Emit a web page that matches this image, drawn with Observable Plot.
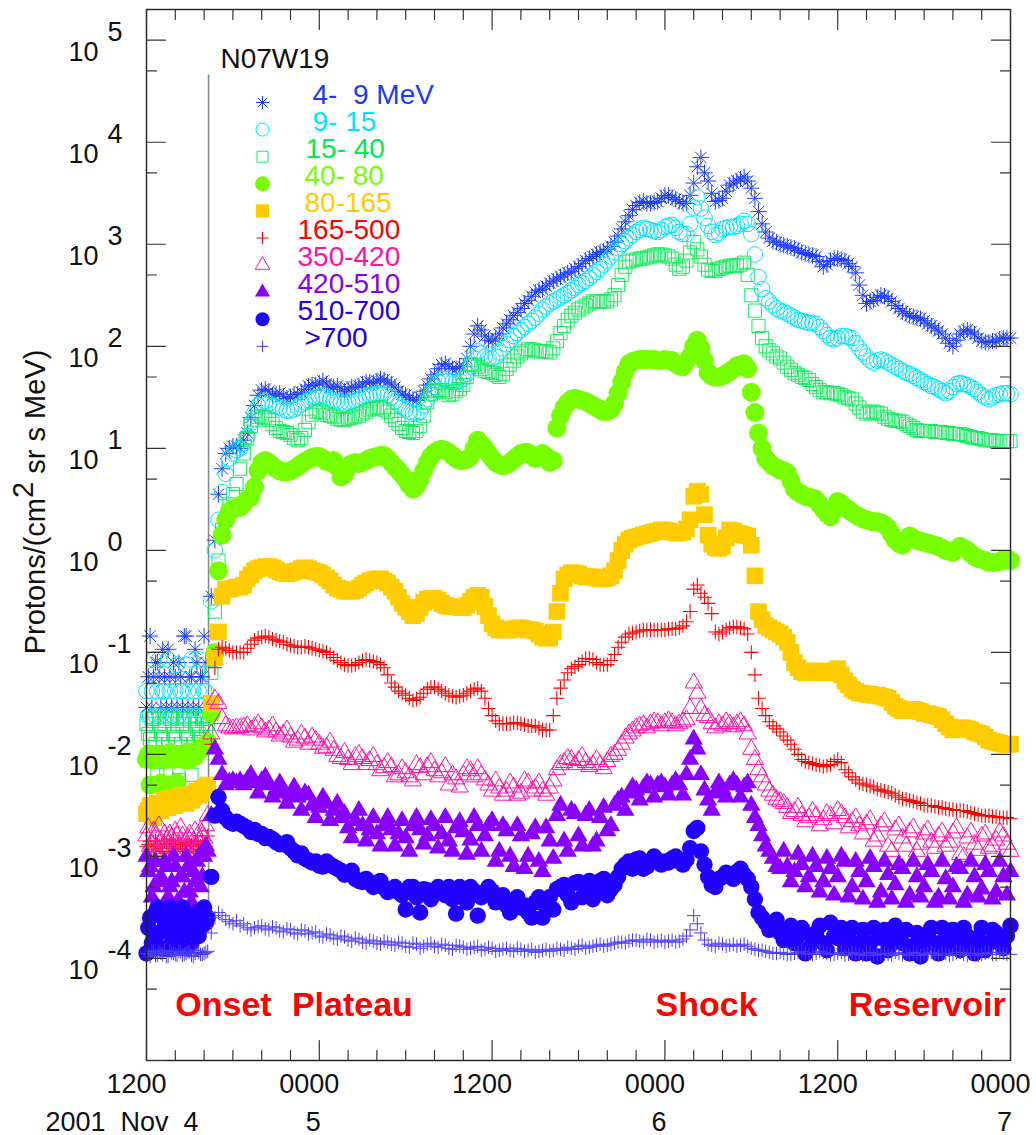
<!DOCTYPE html>
<html>
<head>
<meta charset="utf-8">
<script src="https://cdn.jsdelivr.net/npm/d3@7"></script>
<script src="https://cdn.jsdelivr.net/npm/@observablehq/plot@0.6"></script>
<style>
  html, body { margin: 0; padding: 0; background: #fff; }
  #chart { width: 1036px; height: 1135px; }
  svg text { white-space: pre; }
</style>
</head>
<body>
<div id="chart"></div>
<script>
// ---------------- DATA ----------------
// Hours after 2001 Nov 4 12:00 UT, first set of readings
const hours = [0,0.25,0.5,0.75,1,1.25,1.5,1.75,2,2.25,2.5,2.75,3,3.25,3.5,3.75,4,4.25,4.5,4.75,5,5.25,5.5,5.75,6,6.25,6.5,6.75,7,
7.5,8,8.5,9,9.5,10,10.5,11,11.5,12,12.5,13,13.5,14,14.5,15,15.5,16,16.5,17,17.5,18,18.5,19,19.5,20,20.5,21,21.5,22,22.5,23,23.5,24,24.5,25,25.5,26,26.5,27,27.5,28,28.5,29,29.5,30,30.5,31,31.5,32,32.5,33,33.5,34,34.5,35,35.5,36,36.5,37,37.5,38,38.5,39,39.5,40,40.5,41,41.5,42,42.5,43,43.5,44,44.5,45,45.5,46,46.5,47,47.5,48,48.5,49,49.5,50,50.5,51,51.5,52,52.5,53,53.5,54,54.5,55,55.5,56,56.5,57,57.5,58,58.5,59,59.5,60];
// Hours of the in-between readings
const hoursMid = [0.125,0.375,0.625,0.875,1.125,1.375,1.625,1.875,2.125,2.375,2.625,2.875,3.125,3.375,3.625,3.875,4.125,
7.25,7.75,8.25,8.75,9.25,9.75,10.25,10.75,11.25,11.75,12.25,12.75,13.25,13.75,14.25,14.75,15.25,15.75,16.25,16.75,17.25,17.75,18.25,18.75,19.25,19.75,20.25,20.75,21.25,21.75,22.25,22.75,23.25,23.75,24.25,24.75,25.25,25.75,26.25,26.75,27.25,27.75,28.25,28.75,29.25,29.75,30.25,30.75,31.25,31.75,32.25,32.75,33.25,33.75,34.25,34.75,35.25,35.75,36.25,36.75,37.25,37.75,38.25,38.75,39.25,39.75,40.25,40.75,41.25,41.75,42.25,42.75,43.25,43.75,44.25,44.75,45.25,45.75,46.25,46.75,47.25,47.75,48.25,48.75,49.25,49.75,50.25,50.75,51.25,51.75,52.25,52.75,53.25,53.75,54.25,54.75,55.25,55.75,56.25,56.75,57.25,57.75,58.25,58.75,59.25,59.75];

// log10 of proton intensity, Protons/(cm2 sr s MeV)
const log10_4to9 = [
-1.54,-0.84,-1.24,-1.10,-1.54,-1.24,-0.97,-1.54,-1.24,-1.10,-1.54,-0.84,-1.24,-1.54,-1.10,-1.24,-0.84,-1.54,
-0.45,0.10,0.55,0.80,0.95,1.00,1.02,1.02,1.00,1.08,1.15,
1.42,1.57,1.56,1.53,1.51,1.50,1.53,1.58,1.62,1.64,1.63,1.60,1.58,1.58,1.60,1.63,1.65,1.66,1.67,1.63,
1.56,1.52,1.48,1.50,1.62,1.72,1.82,1.80,1.78,1.80,2.00,2.20,2.10,2.05,2.12,2.22,2.30,2.37,2.45,2.53,
2.56,2.62,2.66,2.70,2.73,2.78,2.84,2.88,2.92,2.95,3.02,3.15,3.28,3.38,3.42,3.40,3.42,3.48,3.46,3.42,
3.40,3.60,3.85,3.62,3.42,3.45,3.58,3.62,3.66,3.55,3.32,3.12,3.03,3.00,2.98,2.96,2.92,2.90,2.88,2.78,
2.84,2.86,2.84,2.78,2.60,2.42,2.45,2.50,2.47,2.40,2.34,2.30,2.28,2.25,2.20,2.15,2.08,2.00,2.12,2.16,
2.12,2.05,2.04,2.05,2.08,2.08];
const log10_4to9_mid = [
-1.24,-1.54,-1.10,-1.24,-0.97,-1.54,-1.24,-1.10,-1.54,-1.24,-0.84,-1.54,-1.24,-0.97,-1.54,-1.24,-1.10,
1.30,1.52,1.58,1.52,1.54,1.49,1.53,1.55,1.61,1.62,1.66,1.60,1.61,1.56,1.60,1.61,1.65,1.64,1.68,1.65,
1.60,1.53,1.50,1.47,1.56,1.68,1.78,1.83,1.78,1.80,1.88,2.12,2.16,2.06,2.08,2.18,2.26,2.33,2.42,2.49,
2.55,2.59,2.64,2.68,2.72,2.76,2.81,2.86,2.90,2.93,2.98,3.08,3.22,3.34,3.41,3.40,3.41,3.45,3.48,3.44,
3.40,3.48,3.76,3.70,3.50,3.43,3.52,3.60,3.64,3.62,3.45,3.20,3.06,3.02,2.99,2.97,2.94,2.91,2.89,2.83,
2.80,2.86,2.85,2.81,2.72,2.50,2.44,2.48,2.49,2.44,2.37,2.32,2.29,2.27,2.22,2.18,2.12,2.03,2.06,2.15,
2.14,2.08,2.04,2.05,2.07,2.08];

const log10_9to15 = [
-1.38,-1.62,-1.07,-1.38,-1.62,-1.38,-1.07,-1.62,-1.38,-1.62,-1.38,-1.12,-1.62,-1.38,-1.62,-1.07,-1.38,-1.62,
-0.50,0.00,0.30,0.57,0.75,0.90,0.95,0.98,1.00,1.05,1.12,
1.35,1.45,1.44,1.41,1.38,1.37,1.40,1.45,1.49,1.51,1.50,1.47,1.45,1.45,1.47,1.50,1.52,1.53,1.54,1.50,
1.43,1.38,1.34,1.36,1.48,1.60,1.68,1.66,1.65,1.68,1.80,1.95,1.90,1.88,1.94,2.02,2.10,2.16,2.22,2.28,
2.36,2.42,2.46,2.50,2.55,2.60,2.64,2.70,2.76,2.84,2.92,3.00,3.06,3.12,3.16,3.14,3.12,3.17,3.19,3.12,
3.10,3.36,3.35,3.18,3.09,3.15,3.17,3.18,3.23,3.10,2.68,2.47,2.40,2.35,2.32,2.28,2.25,2.23,2.22,2.15,
2.08,2.08,2.10,2.08,1.98,1.90,1.84,1.87,1.84,1.80,1.76,1.73,1.69,1.65,1.61,1.58,1.54,1.60,1.64,1.62,
1.58,1.52,1.48,1.52,1.54,1.53];
const log10_9to15_mid = [
-1.62,-1.38,-1.62,-1.07,-1.38,-1.62,-1.38,-1.62,-1.12,-1.38,-1.62,-1.38,-1.07,-1.62,-1.38,-1.62,-1.38,
1.25,1.42,1.46,1.42,1.40,1.37,1.38,1.43,1.47,1.50,1.52,1.48,1.46,1.44,1.46,1.48,1.51,1.53,1.54,1.52,
1.46,1.40,1.36,1.34,1.42,1.54,1.65,1.68,1.65,1.66,1.73,1.88,1.93,1.88,1.90,1.98,2.06,2.13,2.19,2.25,
2.32,2.39,2.44,2.48,2.52,2.57,2.62,2.67,2.73,2.80,2.88,2.96,3.03,3.09,3.14,3.15,3.13,3.14,3.18,3.16,
3.10,3.20,3.46,3.26,3.12,3.11,3.16,3.17,3.20,3.20,2.90,2.56,2.44,2.37,2.34,2.30,2.26,2.24,2.23,2.19,
2.11,2.07,2.10,2.09,2.03,1.94,1.86,1.86,1.86,1.82,1.78,1.74,1.71,1.67,1.63,1.60,1.56,1.56,1.63,1.63,
1.60,1.55,1.50,1.50,1.53,1.54];

const log10_15to40 = [
-1.70,-1.85,-1.65,-2.20,-1.80,-1.70,-1.90,-1.65,-1.85,-2.25,-1.70,-1.80,-1.65,-1.90,-1.75,-1.85,-1.65,-1.70,
-1.20,-0.60,-0.10,0.20,0.30,0.45,0.55,0.65,0.80,0.95,1.10,
1.28,1.31,1.28,1.20,1.16,1.13,1.08,1.18,1.33,1.36,1.33,1.31,1.28,1.29,1.31,1.34,1.38,1.40,1.38,1.32,
1.24,1.17,1.15,1.22,1.45,1.56,1.57,1.52,1.56,1.62,1.82,1.80,1.76,1.74,1.70,1.78,1.86,1.93,1.97,1.96,
1.95,1.94,2.05,2.20,2.30,2.36,2.40,2.44,2.44,2.44,2.50,2.70,2.83,2.85,2.86,2.88,2.90,2.89,2.86,2.76,
2.84,3.02,2.88,2.75,2.74,2.77,2.79,2.79,2.82,2.50,2.20,2.00,1.93,1.88,1.80,1.74,1.70,1.67,1.60,1.55,
1.54,1.53,1.50,1.48,1.40,1.34,1.36,1.34,1.29,1.27,1.26,1.22,1.18,1.17,1.17,1.16,1.15,1.14,1.14,1.12,
1.10,1.09,1.08,1.07,1.07,1.07];
const log10_15to40_mid = [
-1.80,-1.65,-1.90,-1.70,-1.85,-2.15,-1.65,-1.80,-1.70,-1.90,-1.65,-1.85,-2.20,-1.70,-1.80,-1.65,-1.75,
1.22,1.31,1.30,1.24,1.17,1.15,1.10,1.10,1.26,1.36,1.35,1.32,1.29,1.28,1.30,1.32,1.36,1.39,1.40,1.36,
1.28,1.20,1.16,1.17,1.32,1.53,1.57,1.55,1.53,1.58,1.70,1.82,1.78,1.75,1.72,1.73,1.82,1.90,1.95,1.97,
1.95,1.95,1.98,2.13,2.26,2.33,2.38,2.42,2.44,2.44,2.46,2.60,2.78,2.84,2.86,2.87,2.89,2.90,2.88,2.80,
2.78,2.92,2.95,2.80,2.74,2.76,2.78,2.79,2.80,2.70,2.35,2.08,1.96,1.90,1.84,1.77,1.72,1.69,1.63,1.57,
1.55,1.54,1.52,1.49,1.44,1.36,1.35,1.35,1.31,1.28,1.27,1.24,1.20,1.17,1.17,1.16,1.16,1.15,1.14,1.13,
1.11,1.10,1.08,1.08,1.07,1.07];

const log10_40to80 = [
-2.05,-2.30,-2.05,-2.00,-2.28,-2.05,-2.00,-2.30,-2.02,-2.00,-2.05,-1.98,-2.05,-2.00,-1.98,-1.95,-1.92,-1.88,
-1.60,-1.00,-0.20,0.15,0.30,0.38,0.40,0.42,0.42,0.46,0.50,
0.62,0.86,0.86,0.80,0.77,0.78,0.82,0.87,0.91,0.92,0.87,0.88,0.72,0.82,0.86,0.86,0.90,0.92,0.93,0.86,
0.78,0.70,0.60,0.70,0.86,0.96,0.99,0.96,0.90,0.88,0.92,1.08,1.00,0.90,0.84,0.84,0.89,0.95,0.96,0.90,
0.95,0.86,1.20,1.40,1.48,1.48,1.46,1.42,1.38,1.36,1.44,1.65,1.83,1.86,1.87,1.87,1.86,1.87,1.86,1.81,
1.85,2.00,1.98,1.74,1.70,1.71,1.75,1.81,1.83,1.55,1.15,0.90,0.83,0.79,0.76,0.60,0.55,0.52,0.50,0.40,
0.33,0.48,0.42,0.37,0.33,0.30,0.28,0.27,0.22,0.10,0.05,0.14,0.10,0.08,0.06,0.04,0.00,-0.02,0.04,0.00,
-0.06,-0.09,-0.12,-0.12,-0.09,-0.10];
const log10_40to80_mid = [
-2.00,-2.05,-2.02,-2.30,-2.00,-2.05,-1.98,-2.05,-2.28,-2.00,-2.02,-2.05,-1.98,-2.02,-1.95,-1.94,-1.90,
0.52,0.78,0.88,0.83,0.78,0.77,0.80,0.85,0.89,0.92,0.90,0.86,0.82,0.74,0.85,0.85,0.88,0.91,0.93,0.90,
0.82,0.74,0.64,0.63,0.78,0.92,0.98,0.98,0.93,0.88,0.89,1.00,1.04,0.95,0.86,0.83,0.86,0.92,0.96,0.93,
0.92,0.92,0.88,1.32,1.45,1.49,1.47,1.44,1.40,1.36,1.38,1.54,1.75,1.85,1.87,1.87,1.87,1.86,1.86,1.83,
1.80,1.90,2.06,1.86,1.71,1.70,1.73,1.78,1.82,1.78,1.35,1.00,0.86,0.81,0.78,0.68,0.57,0.53,0.51,0.45,
0.36,0.40,0.46,0.40,0.35,0.31,0.29,0.28,0.25,0.16,0.07,0.10,0.12,0.09,0.07,0.05,0.02,-0.01,0.01,0.02,
-0.03,-0.08,-0.10,-0.12,-0.11,-0.09];

const log10_80to165 = [
-2.58,-2.50,-2.62,-2.48,-2.55,-2.45,-2.52,-2.42,-2.50,-2.45,-2.40,-2.48,-2.40,-2.42,-2.36,-2.38,-2.33,-2.30,
-1.50,-1.05,-0.80,-0.45,-0.38,-0.38,-0.37,-0.36,-0.36,-0.34,-0.28,
-0.20,-0.17,-0.16,-0.19,-0.22,-0.22,-0.20,-0.17,-0.20,-0.22,-0.27,-0.34,-0.38,-0.40,-0.39,-0.34,-0.30,-0.28,-0.30,-0.36,
-0.46,-0.56,-0.64,-0.56,-0.48,-0.47,-0.52,-0.55,-0.55,-0.56,-0.50,-0.44,-0.55,-0.72,-0.78,-0.78,-0.77,-0.76,-0.78,-0.79,
-0.85,-0.86,-0.60,-0.28,-0.22,-0.23,-0.26,-0.26,-0.28,-0.27,-0.20,0.00,0.10,0.13,0.15,0.17,0.19,0.20,0.18,0.17,
0.21,0.53,0.55,0.15,0.03,0.04,0.20,0.17,0.15,0.05,-0.60,-0.74,-0.78,-0.82,-0.90,-1.10,-1.19,-1.20,-1.18,-1.20,
-1.20,-1.16,-1.28,-1.36,-1.40,-1.41,-1.42,-1.43,-1.45,-1.53,-1.57,-1.56,-1.57,-1.60,-1.61,-1.63,-1.70,-1.76,-1.74,-1.75,
-1.78,-1.80,-1.86,-1.88,-1.90,-1.90];
const log10_80to165_mid = [
-2.55,-2.60,-2.50,-2.55,-2.48,-2.52,-2.45,-2.50,-2.42,-2.48,-2.44,-2.40,-2.45,-2.38,-2.40,-2.34,-2.32,
-0.24,-0.18,-0.16,-0.17,-0.21,-0.23,-0.21,-0.18,-0.18,-0.21,-0.24,-0.30,-0.37,-0.40,-0.40,-0.37,-0.32,-0.29,-0.28,-0.32,
-0.40,-0.52,-0.60,-0.62,-0.51,-0.47,-0.49,-0.54,-0.55,-0.56,-0.54,-0.46,-0.46,-0.64,-0.76,-0.78,-0.78,-0.76,-0.77,-0.78,
-0.82,-0.86,-0.80,-0.42,-0.24,-0.22,-0.25,-0.26,-0.27,-0.28,-0.25,-0.10,0.06,0.12,0.14,0.16,0.18,0.20,0.19,0.17,
0.18,0.30,0.58,0.35,0.06,0.02,0.12,0.19,0.16,0.14,-0.25,-0.68,-0.76,-0.80,-0.85,-1.00,-1.15,-1.20,-1.19,-1.19,
-1.20,-1.18,-1.22,-1.32,-1.38,-1.40,-1.41,-1.42,-1.44,-1.49,-1.55,-1.57,-1.56,-1.58,-1.60,-1.62,-1.66,-1.73,-1.75,-1.74,
-1.76,-1.79,-1.83,-1.87,-1.89,-1.90];

const log10_165to500 = [
-2.90,-2.85,-2.95,-2.88,-2.92,-2.85,-2.97,-2.88,-2.90,-2.85,-2.93,-2.87,-2.90,-2.95,-2.85,-2.90,-2.88,-2.80,
-1.90,-1.15,-0.97,-0.95,-0.96,-0.98,-1.00,-1.00,-1.00,-1.00,-0.96,
-0.88,-0.85,-0.85,-0.88,-0.90,-0.93,-0.95,-0.94,-0.96,-0.98,-1.00,-1.05,-1.10,-1.13,-1.12,-1.08,-1.08,-1.10,-1.15,-1.30,
-1.38,-1.42,-1.47,-1.44,-1.36,-1.34,-1.38,-1.42,-1.44,-1.42,-1.38,-1.35,-1.45,-1.62,-1.70,-1.70,-1.69,-1.70,-1.72,-1.72,
-1.76,-1.76,-1.45,-1.27,-1.16,-1.12,-1.06,-1.07,-1.12,-1.12,-1.02,-0.90,-0.82,-0.80,-0.78,-0.78,-0.78,-0.78,-0.77,-0.76,
-0.70,-0.38,-0.42,-0.52,-0.80,-0.80,-0.76,-0.75,-0.77,-1.00,-1.45,-1.62,-1.72,-1.78,-1.86,-1.95,-2.05,-2.08,-2.10,-2.12,
-2.10,-2.05,-2.15,-2.22,-2.28,-2.30,-2.32,-2.35,-2.37,-2.40,-2.44,-2.45,-2.47,-2.50,-2.50,-2.52,-2.53,-2.54,-2.55,-2.56,
-2.58,-2.60,-2.60,-2.61,-2.62,-2.63];
const log10_165to500_mid = [
-2.88,-2.93,-2.85,-2.90,-2.95,-2.87,-2.90,-2.84,-2.92,-2.88,-2.95,-2.86,-2.90,-2.88,-2.93,-2.85,-2.90,
-0.92,-0.86,-0.84,-0.87,-0.89,-0.92,-0.94,-0.95,-0.95,-0.97,-0.99,-1.02,-1.08,-1.12,-1.13,-1.10,-1.07,-1.09,-1.12,-1.22,
-1.34,-1.40,-1.45,-1.46,-1.40,-1.34,-1.36,-1.40,-1.43,-1.43,-1.40,-1.36,-1.38,-1.55,-1.67,-1.70,-1.70,-1.69,-1.71,-1.72,
-1.74,-1.76,-1.62,-1.35,-1.20,-1.14,-1.09,-1.06,-1.10,-1.12,-1.08,-0.95,-0.85,-0.81,-0.79,-0.78,-0.78,-0.78,-0.77,-0.77,
-0.74,-0.60,-0.34,-0.46,-0.62,-0.82,-0.78,-0.75,-0.76,-0.82,-1.22,-1.55,-1.68,-1.75,-1.82,-1.90,-2.00,-2.07,-2.09,-2.11,
-2.11,-2.07,-2.08,-2.18,-2.25,-2.29,-2.31,-2.34,-2.36,-2.38,-2.42,-2.44,-2.46,-2.48,-2.50,-2.51,-2.52,-2.54,-2.55,-2.55,
-2.57,-2.59,-2.60,-2.61,-2.62,-2.62];

const log10_350to420 = [
-2.80,-2.90,-2.75,-2.95,-2.85,-2.78,-2.92,-2.82,-2.75,-2.90,-2.80,-2.95,-2.78,-2.85,-2.90,-2.75,-2.82,-2.60,
-1.80,-1.46,-1.50,-1.65,-1.72,-1.74,-1.75,-1.74,-1.74,-1.73,-1.72,
-1.73,-1.74,-1.76,-1.78,-1.80,-1.83,-1.86,-1.84,-1.83,-1.90,-1.93,-1.96,-2.04,-2.05,-2.02,-2.04,-2.06,-2.10,-2.13,-2.12,
-2.20,-2.18,-2.26,-2.13,-2.12,-2.16,-2.18,-2.30,-2.24,-2.20,-2.16,-2.14,-2.25,-2.36,-2.33,-2.36,-2.32,-2.38,-2.28,-2.33,
-2.36,-2.33,-2.15,-2.08,-2.05,-2.06,-2.08,-2.10,-2.10,-2.07,-2.00,-1.90,-1.80,-1.74,-1.71,-1.70,-1.69,-1.69,-1.69,-1.70,
-1.66,-1.30,-1.55,-1.64,-1.74,-1.72,-1.70,-1.70,-1.72,-1.95,-2.15,-2.30,-2.40,-2.46,-2.52,-2.56,-2.60,-2.62,-2.60,-2.64,
-2.60,-2.55,-2.62,-2.66,-2.70,-2.68,-2.85,-2.70,-2.90,-2.74,-2.82,-2.76,-2.95,-2.78,-2.86,-2.80,-2.90,-2.77,-2.98,-2.82,
-2.88,-2.80,-2.92,-2.84,-2.80,-2.95];
const log10_350to420_mid = [
-2.72,-2.88,-2.80,-2.70,-2.92,-2.85,-2.78,-2.95,-2.80,-2.72,-2.88,-2.82,-2.92,-2.75,-2.85,-2.80,-2.70,
-1.76,-1.70,-1.78,-1.72,-1.82,-1.76,-1.88,-1.80,-1.90,-1.86,-1.94,-1.88,-2.02,-1.98,-2.10,-2.00,-2.10,-2.02,-2.16,-2.08,
-2.22,-2.14,-2.22,-2.10,-2.20,-2.08,-2.22,-2.12,-2.20,-2.32,-2.14,-2.22,-2.20,-2.30,-2.26,-2.40,-2.28,-2.40,-2.26,-2.36,
-2.28,-2.40,-2.26,-2.10,-2.04,-2.10,-2.02,-2.12,-2.05,-2.14,-2.02,-1.96,-1.84,-1.77,-1.72,-1.74,-1.68,-1.72,-1.67,-1.72,
-1.68,-1.55,-1.40,-1.62,-1.70,-1.70,-1.68,-1.73,-1.68,-1.80,-2.05,-2.22,-2.36,-2.44,-2.48,-2.58,-2.52,-2.66,-2.56,-2.70,
-2.58,-2.68,-2.58,-2.72,-2.62,-2.78,-2.64,-2.80,-2.66,-2.95,-2.70,-2.90,-2.72,-2.88,-2.74,-2.92,-2.76,-2.86,-2.72,-3.00,
-2.76,-2.94,-2.78,-2.90,-2.76,-2.88];

const log10_420to510 = [
-3.00,-3.10,-3.30,-3.50,-3.20,-3.05,-3.40,-3.25,-3.10,-3.45,-3.20,-3.00,-3.35,-3.15,-3.05,-3.30,-3.00,-2.95,
-2.60,-1.95,-2.05,-2.20,-2.30,-2.27,-2.26,-2.28,-2.26,-2.30,-2.25,
-2.28,-2.26,-2.30,-2.34,-2.38,-2.40,-2.42,-2.38,-2.50,-2.52,-2.48,-2.55,-2.62,-2.72,-2.65,-2.70,-2.74,-2.78,-2.70,-2.74,
-2.78,-2.82,-2.70,-2.74,-2.80,-2.70,-2.78,-2.85,-2.72,-2.76,-2.84,-2.70,-2.80,-2.65,-2.95,-2.75,-3.10,-2.80,-3.00,-2.72,
-3.15,-2.85,-2.60,-2.85,-2.55,-2.80,-2.60,-2.90,-2.62,-2.75,-2.50,-2.42,-2.38,-2.35,-2.33,-2.30,-2.30,-2.32,-2.30,-2.30,
-2.20,-1.85,-2.20,-2.45,-2.38,-2.34,-2.30,-2.30,-2.32,-2.50,-2.70,-2.90,-3.02,-3.12,-3.10,-3.15,-3.08,-3.20,-3.10,-3.25,
-3.12,-3.20,-3.05,-3.30,-3.15,-3.25,-3.10,-3.35,-3.18,-3.28,-3.12,-3.38,-3.20,-3.30,-3.15,-3.40,-3.22,-3.30,-3.12,-3.38,
-3.20,-3.32,-3.15,-3.35,-3.20,-3.15];
const log10_420to510_mid = [
-3.15,-3.40,-3.05,-3.25,-3.50,-3.10,-3.30,-3.00,-3.45,-3.20,-3.35,-3.10,-3.45,-3.25,-3.00,-3.20,-2.90,
-2.20,-2.38,-2.22,-2.42,-2.28,-2.48,-2.32,-2.55,-2.40,-2.62,-2.42,-2.65,-2.48,-2.58,-2.82,-2.55,-2.85,-2.62,-2.90,-2.62,
-2.90,-2.65,-2.95,-2.62,-2.88,-2.64,-2.92,-2.62,-2.95,-2.66,-2.98,-2.62,-2.95,-2.70,-3.05,-2.70,-3.00,-2.70,-3.12,-2.78,
-3.05,-2.72,-3.02,-2.50,-2.95,-2.58,-2.90,-2.55,-2.85,-2.52,-2.70,-2.45,-2.55,-2.32,-2.45,-2.28,-2.42,-2.28,-2.40,-2.26,
-2.40,-2.05,-1.95,-2.35,-2.55,-2.28,-2.42,-2.26,-2.42,-2.28,-2.62,-2.80,-2.95,-3.10,-2.95,-3.25,-2.98,-3.30,-3.00,-3.35,
-3.02,-3.38,-3.00,-3.40,-3.05,-3.42,-3.02,-3.45,-3.05,-3.42,-3.08,-3.45,-3.05,-3.40,-3.08,-3.45,-3.05,-3.42,-3.10,-3.45,
-3.05,-3.40,-3.08,-3.42,-3.05,-3.38];

const log10_510to700 = [
-3.95,-3.60,-3.80,-3.50,-3.90,-3.70,-3.55,-3.85,-3.65,-3.75,-3.50,-3.90,-3.60,-3.80,-3.55,-3.70,-3.50,-3.60,
-3.20,-2.60,-2.42,-2.55,-2.62,-2.66,-2.68,-2.66,-2.68,-2.70,-2.72,
-2.74,-2.78,-2.81,-2.86,-2.88,-2.92,-2.99,-3.02,-3.06,-3.09,-3.05,-3.10,-3.14,-3.16,-3.22,-3.25,-3.25,-3.26,-3.31,-3.33,
-3.35,-3.52,-3.30,-3.55,-3.33,-3.36,-3.32,-3.30,-3.56,-3.33,-3.30,-3.58,-3.35,-3.34,-3.40,-3.48,-3.45,-3.50,-3.55,-3.45,
-3.60,-3.40,-3.32,-3.28,-3.45,-3.25,-3.30,-3.42,-3.24,-3.38,-3.28,-3.12,-3.05,-3.03,-3.12,-3.05,-3.04,-3.05,-3.02,-3.05,
-3.03,-2.75,-2.95,-3.20,-3.30,-3.20,-3.18,-3.15,-3.18,-3.30,-3.55,-3.65,-3.70,-3.75,-3.72,-3.85,-3.70,-3.90,-3.75,-3.85,
-3.65,-3.80,-3.90,-3.70,-3.85,-3.95,-3.70,-3.80,-3.92,-3.68,-3.85,-3.95,-3.75,-3.88,-3.70,-3.95,-3.80,-3.72,-3.92,-3.78,
-3.95,-3.70,-3.85,-3.75,-3.90,-3.68];
const log10_510to700_mid = [
-3.70,-3.85,-3.55,-3.75,-3.60,-3.90,-3.50,-3.80,-3.62,-3.88,-3.58,-3.72,-3.85,-3.60,-3.78,-3.55,-3.65,
-2.76,-2.78,-2.82,-2.83,-2.88,-2.86,-2.95,-2.97,-3.04,-3.05,-3.10,-3.08,-3.12,-3.18,-3.14,-3.24,-3.22,-3.30,-3.24,-3.35,
-3.30,-3.38,-3.30,-3.40,-3.32,-3.42,-3.30,-3.38,-3.42,-3.30,-3.45,-3.34,-3.40,-3.30,-3.45,-3.38,-3.55,-3.40,-3.48,-3.60,
-3.40,-3.48,-3.52,-3.30,-3.38,-3.26,-3.40,-3.24,-3.35,-3.22,-3.32,-3.20,-3.08,-3.12,-3.02,-3.10,-3.00,-3.08,-3.06,-3.00,
-3.08,-2.92,-2.72,-3.08,-3.28,-3.22,-3.16,-3.22,-3.12,-3.22,-3.42,-3.60,-3.72,-3.62,-3.82,-3.68,-3.78,-3.95,-3.80,-3.68,
-3.92,-3.78,-3.70,-3.80,-3.95,-3.72,-3.85,-3.98,-3.72,-3.85,-3.78,-3.72,-3.88,-3.98,-3.76,-3.85,-3.70,-3.90,-3.82,-3.70,
-3.88,-3.80,-3.92,-3.72,-3.85,-3.78];

const log10_above700 = [
-3.95,-3.98,-3.93,-3.97,-3.95,-3.92,-3.98,-3.95,-3.96,-3.93,-3.97,-3.95,-3.94,-3.98,-3.92,-3.96,-3.95,-3.93,
-3.75,-3.60,-3.55,-3.58,-3.62,-3.64,-3.66,-3.63,-3.68,-3.66,-3.70,
-3.70,-3.68,-3.72,-3.70,-3.74,-3.72,-3.76,-3.73,-3.75,-3.78,-3.76,-3.80,-3.78,-3.82,-3.80,-3.84,-3.82,-3.85,-3.83,-3.86,
-3.84,-3.88,-3.85,-3.90,-3.86,-3.88,-3.86,-3.90,-3.87,-3.89,-3.90,-3.88,-3.91,-3.90,-3.92,-3.90,-3.93,-3.91,-3.92,-3.94,
-3.92,-3.93,-3.90,-3.92,-3.90,-3.88,-3.90,-3.88,-3.86,-3.87,-3.85,-3.84,-3.83,-3.82,-3.84,-3.82,-3.83,-3.84,-3.82,-3.83,
-3.78,-3.58,-3.75,-3.86,-3.88,-3.86,-3.87,-3.88,-3.86,-3.90,-3.92,-3.93,-3.95,-3.94,-3.96,-3.95,-3.93,-3.96,-3.95,-3.94,
-3.96,-3.95,-3.97,-3.94,-3.96,-3.95,-3.97,-3.95,-3.96,-3.94,-3.96,-3.97,-3.95,-3.96,-3.94,-3.97,-3.95,-3.96,-3.94,-3.97,
-3.95,-3.96,-3.94,-3.96,-3.95,-3.96];
const log10_above700_mid = [
-3.96,-3.93,-3.97,-3.94,-3.96,-3.98,-3.93,-3.95,-3.97,-3.94,-3.96,-3.93,-3.97,-3.95,-3.94,-3.96,-3.94,
-3.72,-3.69,-3.71,-3.69,-3.73,-3.71,-3.75,-3.72,-3.76,-3.74,-3.79,-3.77,-3.81,-3.79,-3.83,-3.81,-3.85,-3.83,-3.86,-3.84,
-3.87,-3.85,-3.89,-3.86,-3.88,-3.85,-3.89,-3.87,-3.91,-3.88,-3.91,-3.89,-3.92,-3.89,-3.93,-3.91,-3.92,-3.90,-3.93,-3.91,
-3.93,-3.91,-3.92,-3.91,-3.89,-3.91,-3.87,-3.89,-3.87,-3.88,-3.86,-3.84,-3.85,-3.82,-3.83,-3.81,-3.84,-3.82,-3.83,-3.84,
-3.81,-3.72,-3.66,-3.82,-3.87,-3.85,-3.88,-3.86,-3.87,-3.88,-3.91,-3.92,-3.94,-3.95,-3.95,-3.96,-3.94,-3.95,-3.96,-3.93,
-3.95,-3.96,-3.94,-3.96,-3.95,-3.97,-3.94,-3.96,-3.95,-3.97,-3.95,-3.96,-3.94,-3.97,-3.95,-3.96,-3.95,-3.97,-3.94,-3.96,
-3.95,-3.97,-3.95,-3.96,-3.94,-3.96];

const bandLabels = ["4-\u00a0\u00a09 MeV", "9- 15", "15- 40", "40- 80", "80-165", "165-500", "350-420", "420-510", "510-700", ">700"];
const bandSeries = [log10_4to9, log10_9to15, log10_15to40, log10_40to80, log10_80to165, log10_165to500, log10_350to420, log10_420to510, log10_510to700, log10_above700];
const bandSeriesMid = [log10_4to9_mid, log10_9to15_mid, log10_15to40_mid, log10_40to80_mid, log10_80to165_mid, log10_165to500_mid, log10_350to420_mid, log10_420to510_mid, log10_510to700_mid, log10_above700_mid];

const xTickLabels = ["1200", "0000", "1200", "0000", "1200", "0000"];
const xTickHours = [0, 12, 24, 36, 48, 60];
const dayLabels = ["5", "6", "7"];
const dayHours = [12, 36, 60];
const firstDayLabel = "2001\u00a0\u00a0Nov\u00a0\u00a04";
const yTickExponents = [5, 4, 3, 2, 1, 0, -1, -2, -3, -4];
const flareLabel = "N07W19";
const flareOnsetHour = 4.31;
const phaseLabels = ["Onset", "Plateau", "Shock", "Reservoir"];
const phaseStartHours = [2.0, 10.1, 35.35, 48.77];

// ---------------- STYLES ----------------
const asterisk8 = { draw(ctx, size) { const r = Math.sqrt(size / Math.PI), d = r * Math.SQRT1_2;
  ctx.moveTo(-r, 0); ctx.lineTo(r, 0); ctx.moveTo(0, -r); ctx.lineTo(0, r);
  ctx.moveTo(-d, -d); ctx.lineTo(d, d); ctx.moveTo(-d, d); ctx.lineTo(d, -d); } };
const plusSym = { draw(ctx, size) { const r = Math.sqrt(size / Math.PI);
  ctx.moveTo(-r, 0); ctx.lineTo(r, 0); ctx.moveTo(0, -r); ctx.lineTo(0, r); } };
const bandStyle = [
  {color: "#1f3fff", text: "#1a3aff", symbol: asterisk8, r: 8.2, legendR: 6.5, filled: false, sw: 1},
  {color: "#00e4ff", text: "#00e4ff", symbol: "circle",  r: 7.8, legendR: 6.5, filled: false, sw: 1},
  {color: "#14ec5c", text: "#00ec50", symbol: "square",  r: 7.4, legendR: 6.2, filled: false, sw: 1},
  {color: "#77ff00", text: "#77ff00", symbol: "circle",  r: 9.5, legendR: 7.5, filled: true},
  {color: "#ffcc00", text: "#ffcc00", symbol: "square",  r: 9.4, legendR: 7.5, filled: true},
  {color: "#ff0000", text: "#ff0000", symbol: plusSym,   r: 7.2, legendR: 6,   filled: false, sw: 1.1},
  {color: "#ff14a8", text: "#ff11aa", symbol: "triangle",r: 6.4, legendR: 5.4, filled: false, sw: 1},
  {color: "#8800ff", text: "#8800ee", symbol: "triangle",r: 6.8, legendR: 5.6, filled: true},
  {color: "#2200ff", text: "#2200ee", symbol: "circle",  r: 8.2, legendR: 7,   filled: true},
  {color: "#4a3cff", text: "#2200dd", symbol: plusSym,   r: 6.8, legendR: 5.8, filled: false, sw: 1}
];
const legendTextX = [312, 312, 305, 304, 304, 297, 297, 297, 297, 304];
const FONT = "'Liberation Sans', Arial, Helvetica, sans-serif";

// ---------------- BUILD ----------------
const start = Date.UTC(2001, 10, 4, 12);
const toDate = h => new Date(start + h * 3600e3);
bandSeries.forEach((s, k) => { if (s.length !== hours.length) console.warn("length mismatch", k, s.length); });
bandSeriesMid.forEach((s, k) => { if (s.length !== hoursMid.length) console.warn("mid length mismatch", k, s.length); });

const rows = bandSeries.map((s, k) => {
  const a = hours.map((h, i) => ({t: toDate(h), flux: 10 ** s[i]}));
  const b = hoursMid.map((h, i) => ({t: toDate(h), flux: 10 ** bandSeriesMid[k][i]}));
  return a.concat(b).sort((p, q) => p.t - q.t);
});

const frameLeft = 146, frameTop = 9;
const tick = { draw(ctx, l) { ctx.moveTo(0, 0); ctx.lineTo(0, -l); } };
const yMajor = d3.range(-5, 6).map(e => 10 ** e);
const yMinor = d3.range(-5, 5).map(e => 5 * 10 ** e);
const xMajor = xTickHours.map(toDate);
const xMinor = d3.utcHour.every(2).range(toDate(0), toDate(60.01)).filter(d => d.getUTCHours() % 12 !== 0);
const tickStyle = {stroke: "#333", strokeWidth: 1.2, shape: tick, anchor: "start"};

const marks = [];
marks.push(Plot.ruleX([flareOnsetHour], {x: toDate, y1: 10 ** 4.66, y2: 10 ** -3.75, stroke: "#8a8a8a", strokeWidth: 1.6}));
rows.forEach((data, k) => {
  const st = bandStyle[k];
  marks.push(Plot.dot(data, {x: "t", y: "flux", symbol: st.symbol, r: st.r,
    fill: st.filled ? st.color : "none", stroke: st.filled ? "none" : st.color, strokeWidth: st.sw || 1}));
});
marks.push(Plot.frame({stroke: "#222", strokeWidth: 1.4}));
marks.push(Plot.vector(yMajor, {y: d => d, frameAnchor: "left", rotate: 90, length: 19, ...tickStyle}));
marks.push(Plot.vector(yMinor, {y: d => d, frameAnchor: "left", rotate: 90, length: 10, ...tickStyle}));
marks.push(Plot.vector(yMajor, {y: d => d, frameAnchor: "right", rotate: -90, length: 19, ...tickStyle}));
marks.push(Plot.vector(yMinor, {y: d => d, frameAnchor: "right", rotate: -90, length: 10, ...tickStyle}));
marks.push(Plot.vector(xMajor, {x: d => d, frameAnchor: "bottom", rotate: 0, length: 20, ...tickStyle}));
marks.push(Plot.vector(xMinor, {x: d => d, frameAnchor: "bottom", rotate: 0, length: 10, ...tickStyle}));
marks.push(Plot.vector(xMajor, {x: d => d, frameAnchor: "top", rotate: 180, length: 20, ...tickStyle}));
marks.push(Plot.vector(xMinor, {x: d => d, frameAnchor: "top", rotate: 180, length: 10, ...tickStyle}));
marks.push(Plot.text(yTickExponents, {y: e => 10 ** e, text: () => "10", frameAnchor: "left", dx: -48, dy: 21,
  textAnchor: "end", lineAnchor: "bottom", fontSize: 27, fill: "#111"}));
marks.push(Plot.text(yTickExponents, {y: e => 10 ** e, text: e => String(e), frameAnchor: "left", dx: -39, dy: 1,
  textAnchor: "start", lineAnchor: "bottom", fontSize: 27, fill: "#111"}));
marks.push(Plot.text(xTickLabels, {x: (d, i) => xMajor[i], text: d => d, frameAnchor: "bottom", dx: -10, dy: 32,
  lineAnchor: "bottom", fontSize: 27, fill: "#111"}));
marks.push(Plot.text(dayLabels, {x: (d, i) => toDate(dayHours[i]), text: d => d, frameAnchor: "bottom", dx: -6, dy: 70,
  lineAnchor: "bottom", fontSize: 27, fill: "#111"}));
marks.push(Plot.text([firstDayLabel], {x: () => toDate(0), text: d => d, frameAnchor: "bottom", dx: 52, dy: 70,
  textAnchor: "end", lineAnchor: "bottom", fontSize: 27, fill: "#111"}));
bandLabels.forEach((lab, i) => {
  const st = bandStyle[i];
  marks.push(Plot.dot([lab], {frameAnchor: "top-left", dx: 262 - frameLeft, dy: 102 + 27.1 * i - frameTop,
    symbol: st.symbol, r: st.legendR, fill: st.filled ? st.color : "none", stroke: st.filled ? "none" : st.color, strokeWidth: st.sw || 1}));
  marks.push(Plot.text([lab], {frameAnchor: "top-left", text: d => d, dx: legendTextX[i] - frameLeft, dy: 103.5 + 27.05 * i - frameTop,
    textAnchor: "start", lineAnchor: "bottom", fontSize: 28, fill: st.text}));
});
marks.push(Plot.text([flareLabel], {frameAnchor: "top-left", text: d => d, dx: 220 - frameLeft, dy: 67 - frameTop,
  textAnchor: "start", lineAnchor: "bottom", fontSize: 28, fill: "#111"}));
marks.push(Plot.text(phaseLabels, {x: (d, i) => toDate(phaseStartHours[i]), text: d => d, frameAnchor: "bottom", dy: -45,
  textAnchor: "start", lineAnchor: "bottom", fontSize: 34, fontWeight: "bold", fill: "#ff0000"}));

const svg = Plot.plot({
  width: 1036, height: 1135,
  marginLeft: frameLeft, marginRight: 26, marginTop: frameTop, marginBottom: 75,
  x: {type: "utc", domain: [toDate(0), toDate(60)], axis: null},
  y: {type: "log", domain: [1e-5, 2e5], axis: null},
  style: {fontFamily: FONT, fontSize: "27px", background: "#fff", color: "#111", overflow: "visible"},
  marks
});

const yt = d3.select(svg).append("text")
  .attr("transform", "translate(45,502) rotate(-90)")
  .attr("text-anchor", "middle")
  .attr("font-family", FONT)
  .attr("font-size", 29)
  .attr("fill", "#111");
yt.append("tspan").text("Protons/(cm");
yt.append("tspan").attr("dy", -12).text("2");
yt.append("tspan").attr("dy", 12).text(" sr s MeV)");

document.getElementById("chart").append(svg);
</script>
</body>
</html>
